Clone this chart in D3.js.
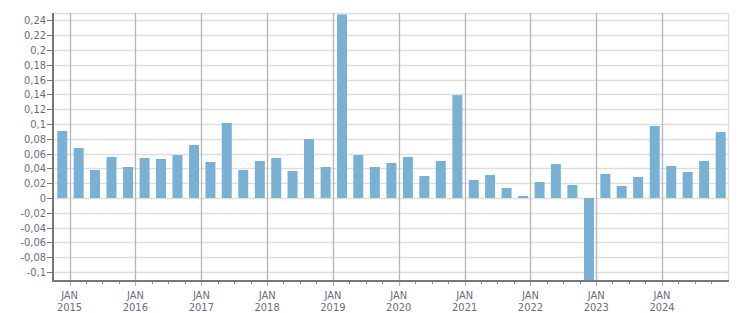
<!DOCTYPE html>
<html>
<head>
<meta charset="utf-8">
<script src="https://cdn.jsdelivr.net/npm/d3@7"></script>
<style>
  body { margin: 0; background: #fff; }
  text { font-family: "DejaVu Sans Condensed", "DejaVu Sans", sans-serif; font-size: 11px; fill: #6b6b80; }
</style>
</head>
<body>
<div id="chart"></div>
<script>
var svgWidth = 751;
var svgHeight = 313;

var margin = { top: 13, right: 23, bottom: 32, left: 53 };
var width = svgWidth - margin.left - margin.right;
var height = svgHeight - margin.top - margin.bottom;

// quarter start dates (year, month index) and values
var quarterYears = [2014, 2015, 2015, 2015, 2015, 2016, 2016, 2016, 2016, 2017, 2017, 2017, 2017,
  2018, 2018, 2018, 2018, 2019, 2019, 2019, 2019, 2020, 2020, 2020, 2020, 2021, 2021, 2021, 2021,
  2022, 2022, 2022, 2022, 2023, 2023, 2023, 2023, 2024, 2024, 2024, 2024];
var quarterMonths = [9, 0, 3, 6, 9, 0, 3, 6, 9, 0, 3, 6, 9, 0, 3, 6, 9, 0, 3, 6, 9,
  0, 3, 6, 9, 0, 3, 6, 9, 0, 3, 6, 9, 0, 3, 6, 9, 0, 3, 6, 9];
var values = [0.0905, 0.0676, 0.0378, 0.0554, 0.0419, 0.054, 0.0527, 0.058, 0.0716, 0.0486,
  0.1014, 0.0378, 0.05, 0.054, 0.0365, 0.0797, 0.0419, 0.248, 0.058, 0.0419, 0.0473, 0.0554,
  0.0297, 0.05, 0.139, 0.0243, 0.031, 0.0135, 0.0027, 0.0216, 0.0459, 0.0176, -0.118, 0.0324,
  0.0162, 0.0284, 0.0973, 0.0432, 0.0351, 0.05, 0.0892];
var yTicks = [-0.1, -0.08, -0.06, -0.04, -0.02, 0, 0.02, 0.04, 0.06, 0.08, 0.1, 0.12, 0.14,
  0.16, 0.18, 0.2, 0.22, 0.24];
var yearLabels = [2015, 2016, 2017, 2018, 2019, 2020, 2021, 2022, 2023, 2024];

var data = values.map(function(v, i) {
  return { start: new Date(quarterYears[i], quarterMonths[i], 1), value: v };
});

var svg = d3.select("#chart")
  .append("svg")
  .attr("width", svgWidth)
  .attr("height", svgHeight);

var chartGroup = svg.append("g")
  .attr("transform", `translate(${margin.left}, ${margin.top})`);

var xScale = d3.scaleTime()
  .domain([new Date(2014, 9, 1), new Date(2025, 0, 1)])
  .range([0, width]);

var yScale = d3.scaleLinear()
  .domain([-0.1122, 0.25])
  .range([height, 0]);

var fmt = function(v) { return (+v.toFixed(2)).toString().replace(".", ","); };

// horizontal grid
chartGroup.selectAll(".hgrid")
  .data(yTicks.concat([0.25]))
  .enter()
  .append("line")
  .attr("x1", 0).attr("x2", width)
  .attr("y1", d => Math.round(yScale(d)) + 0.5)
  .attr("y2", d => Math.round(yScale(d)) + 0.5)
  .attr("stroke", "#dedede")
  .attr("stroke-width", 1.3);

// right border
chartGroup.append("line")
  .attr("x1", width + 0.5).attr("x2", width + 0.5)
  .attr("y1", 0).attr("y2", height)
  .attr("stroke", "#dedede")
  .attr("stroke-width", 1.3);

// vertical grid at JAN
var janDates = yearLabels.map(y => new Date(y, 0, 1));
chartGroup.selectAll(".vgrid")
  .data(janDates)
  .enter()
  .append("line")
  .attr("x1", d => Math.round(xScale(d)) + 0.5)
  .attr("x2", d => Math.round(xScale(d)) + 0.5)
  .attr("y1", 0).attr("y2", height + 5)
  .attr("stroke", "#b5b5b5")
  .attr("stroke-width", 1.3);

// bars
chartGroup.append("clipPath").attr("id", "plotClip")
  .append("rect").attr("width", width).attr("height", height);

chartGroup.append("g")
  .attr("clip-path", "url(#plotClip)")
  .selectAll("rect")
  .data(data)
  .enter()
  .append("rect")
  .attr("x", d => {
    var end = d3.timeMonth.offset(d.start, 3);
    return (xScale(d.start) + xScale(end)) / 2 + 1 - 5;
  })
  .attr("width", 10)
  .attr("y", d => yScale(Math.max(0, d.value)))
  .attr("height", d => Math.abs(yScale(d.value) - yScale(0)))
  .attr("fill", "#78b1d3");

// quarter minor ticks
var quarterTicks = d3.timeMonth.every(3).range(new Date(2015, 0, 1), new Date(2025, 0, 1));
chartGroup.selectAll(".qtick")
  .data(quarterTicks.filter(d => d.getMonth() !== 0))
  .enter()
  .append("line")
  .attr("x1", d => Math.round(xScale(d)) + 0.5)
  .attr("x2", d => Math.round(xScale(d)) + 0.5)
  .attr("y1", height).attr("y2", height + 3)
  .attr("stroke", "#888")
  .attr("stroke-width", 1);

// x axis line
chartGroup.append("line")
  .attr("x1", -1).attr("x2", width + 1)
  .attr("y1", height).attr("y2", height)
  .attr("stroke", "#777")
  .attr("stroke-width", 2);

// y axis line
chartGroup.append("line")
  .attr("x1", 0).attr("x2", 0)
  .attr("y1", 0).attr("y2", height + 1)
  .attr("stroke", "#777")
  .attr("stroke-width", 2);

// y ticks and labels
chartGroup.selectAll(".ytick")
  .data(yTicks)
  .enter()
  .append("line")
  .attr("x1", -6).attr("x2", 0)
  .attr("y1", d => Math.round(yScale(d)) + 0.5)
  .attr("y2", d => Math.round(yScale(d)) + 0.5)
  .attr("stroke", "#777");

chartGroup.selectAll(".ylabel")
  .data(yTicks)
  .enter()
  .append("text")
  .attr("x", -7)
  .attr("y", d => yScale(d) + 4)
  .attr("text-anchor", "end")
  .text(d => fmt(d));

// x labels
var xLabels = chartGroup.selectAll(".xlabel")
  .data(janDates)
  .enter()
  .append("text")
  .attr("text-anchor", "middle")
  .attr("transform", d => `translate(${xScale(d)}, ${height + 18})`);
xLabels.append("tspan").attr("x", 0).attr("y", 0).text("JAN");
xLabels.append("tspan").attr("x", 0).attr("y", 11.5).text(d => d.getFullYear());
</script>
</body>
</html>
